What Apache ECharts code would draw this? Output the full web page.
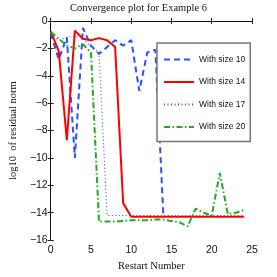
<!DOCTYPE html>
<html>
<head>
<meta charset="utf-8">
<script src="https://cdn.jsdelivr.net/npm/echarts@6/dist/echarts.min.js"></script>
<style>html,body{margin:0;padding:0;background:#fff}#c{width:277px;height:277px}</style>
</head>
<body>
<div id="c"></div>
<script>
const restarts = [0,1,2,3,4,5,6,7,8,9,10,11,12,13,14,15,16,17,18,19,20,21,22,23,24];
const size10 = [-0.9,-2.8,-1.2,-10.0,-0.5,-1.8,-2.4,-1.9,-1.4,-1.8,-1.4,-5.1,-2.3,-2.1,-14.3];
const size14 = [-0.76,-2.2,-8.7,-0.7,-1.3,-1.4,-1.25,-1.4,-1.9,-13.3,-14.3,-14.3,-14.3,-14.3,-14.3,-14.3,-14.3,-14.3,-14.3,-14.3,-14.3,-14.3,-14.3,-14.3,-14.3];
const size17 = [-1.0,-1.4,-1.2,-1.1,-1.3,-1.9,-2.3,-14.2,-14.2,-14.2,-14.2,-14.2,-14.2,-14.2,-14.2,-14.2,-14.2,-14.2,-14.2,-14.2,-14.2,-14.2,-14.2,-14.2,-14.2];
const size20 = [-0.8,-1.3,-1.8,-2.0,-1.7,-2.3,-14.65,-14.65,-14.65,-14.6,-14.55,-14.55,-14.55,-14.5,-14.5,-14.6,-14.7,-15.0,-13.7,-14.0,-14.2,-11.1,-14.1,-14.0,-13.8];
const seriesNames = ['With size 10','With size 14','With size 17','With size 20'];
const xTicks = [0,5,10,15,20,25];
const yTicks = [-16,-14,-12,-10,-8,-6,-4,-2,0];

const pairs = arr => arr.map((v,i)=>[restarts[i], v]);
const minus = v => String(v).replace('-', '\u2212');
const chart = echarts.init(document.getElementById('c'), null, {renderer:'canvas'});
const sans = 'Liberation Sans';
const serif = 'Liberation Serif';
const baseAxis = {
  type:'value', splitLine:{show:false},
  axisTick:{inside:true, length:3, lineStyle:{color:'#222', width:1}},
};
chart.setOption({
  animation:false,
  title:{text:'Convergence plot for Example 6', left:'center', top:3, padding:0,
    textStyle:{fontFamily:serif, fontSize:10.5, fontWeight:'normal', color:'#111'}},
  grid:{left:37, right:25, top:21, bottom:30},
  xAxis:[
    Object.assign({}, baseAxis, {position:'bottom', min:xTicks[0], max:xTicks[xTicks.length-1], interval:5,
      name:'Restart Number', nameLocation:'middle', nameGap:19,
      nameTextStyle:{fontFamily:serif, fontSize:10.5, color:'#111'},
      axisLine:{lineStyle:{color:'#555', width:1}},
      axisLabel:{fontFamily:sans, fontSize:10.5, color:'#111', margin:5, formatter:minus}}),
    Object.assign({}, baseAxis, {position:'top', min:xTicks[0], max:xTicks[xTicks.length-1], interval:5,
      axisLine:{lineStyle:{color:'#111', width:1}}, axisLabel:{show:false}})
  ],
  yAxis:[
    Object.assign({}, baseAxis, {position:'left', min:yTicks[0], max:yTicks[yTicks.length-1], interval:2,
      name:'log10  of residual norm', nameLocation:'middle', nameGap:28,
      nameTextStyle:{fontFamily:serif, fontSize:10.5, color:'#111'},
      axisLine:{lineStyle:{color:'#555', width:1}},
      axisLabel:{fontFamily:sans, fontSize:10.5, color:'#111', margin:3, formatter:minus}}),
    Object.assign({}, baseAxis, {position:'right', min:yTicks[0], max:yTicks[yTicks.length-1], interval:2,
      axisLine:{lineStyle:{color:'#111', width:1}}, axisLabel:{show:false}})
  ],
  legend:{orient:'vertical', left:157, top:43, padding:[12,5,10,6], itemWidth:30, itemHeight:10, itemGap:13.5,
    backgroundColor:'#fff', borderColor:'#777', borderWidth:1.5, borderRadius:0,
    itemStyle:{color:'rgba(0,0,0,0)', borderColor:'rgba(0,0,0,0)', borderWidth:0},
    textStyle:{fontFamily:sans, fontSize:8.5, color:'#111'}, data:seriesNames},
  series:[
    {name:seriesNames[0], type:'line', data:pairs(size10), symbol:'none', z:2,
      lineStyle:{color:'#2a50ff', width:2, type:[6,4]}, itemStyle:{color:'#2a50ff'}},
    {name:seriesNames[1], type:'line', data:pairs(size14), symbol:'none', z:3,
      lineStyle:{color:'#ff0000', width:2, type:'solid'}, itemStyle:{color:'#ff0000'}},
    {name:seriesNames[2], type:'line', data:pairs(size17), symbol:'none', z:4,
      lineStyle:{color:'#3050e0', width:1.1, type:[1,2.5]}, itemStyle:{color:'#3050e0'}},
    {name:seriesNames[3], type:'line', data:pairs(size20), symbol:'none', z:5,
      lineStyle:{color:'#22aa22', width:2, type:[6,2.5,1.5,2.5]}, itemStyle:{color:'#22aa22'}}
  ]
});
</script>
</body>
</html>
